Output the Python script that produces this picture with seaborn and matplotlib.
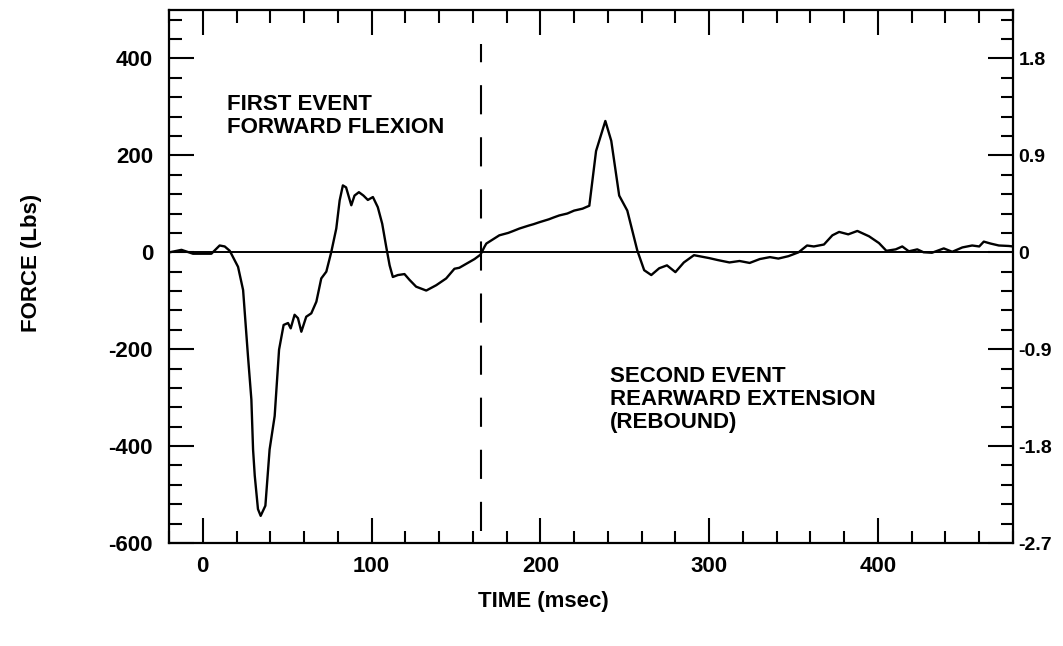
import matplotlib
matplotlib.use("Agg")
import matplotlib.pyplot as plt
from matplotlib.ticker import MultipleLocator, FixedLocator, FuncFormatter
import numpy as np
import pandas as pd
import seaborn as sns

# ---- data ----
time_ms = [-19.5, -12.6, -5.8, 5.1, 10, 13, 16, 20.9, 23.9, 26.8, 28.8, 29.8, 30.8, 32.7,
           34.3, 37.1, 39.6, 42.6, 45.2, 47.9, 50.5, 52.1, 54.4, 56.4, 58.4, 61.3, 64.3,
           67.3, 70.2, 73.2, 76.1, 79.1, 81.1, 83, 84.9, 88, 89.9, 92.5, 95.2, 97.8, 100.8,
           103.7, 106.3, 108.7, 110.7, 112.6, 115.6, 119.5, 122.5, 126.4, 132.4, 138.3,
           144.2, 149.1, 152, 157, 161, 164.5, 167, 168, 175.7, 181, 184, 187.6, 193, 196,
           199.4, 205, 208, 211.2, 216, 220, 225, 229, 233, 238.5, 242, 246.7, 251.5, 257.4,
           261.5, 265.7, 270.4, 275, 280, 285, 291, 300, 305, 312, 318, 324, 330, 336, 341,
           347, 353, 358, 362, 368, 373, 377, 382.4, 387.8, 394.7, 400.6, 405, 410.5, 414.4,
           418.3, 423.3, 427, 432, 439, 444, 450, 455.8, 460, 462.7, 466.7, 471.6, 477.5, 480]
force_lbs = [0, 5, -3, -3, 14, 12, 3, -30, -78, -215, -304, -407, -461, -530,
             -544, -523, -407, -338, -201, -150, -146, -157, -129, -136, -164, -133, -126,
             -102, -54, -40, 0, 49, 107, 138, 134, 97, 117, 124, 117, 108, 114,
             93, 59, 11, -27, -51, -47, -45, -57, -71, -79, -68,
             -54, -34, -32, -22, -14, -5, 12, 18, 35, 40, 44, 49, 55, 58,
             62, 68, 72, 76, 80, 86, 90, 96, 209, 271, 230, 117, 86, 4,
             -37, -47, -33, -27, -41, -21, -6, -12, -16, -21, -18, -22, -14, -10, -13,
             -8, 0, 14, 12, 16, 35, 42, 37, 44, 33, 19, 3, 6, 12,
             2, 6, 0, -1, 8, 1, 10, 14, 12, 22, 18, 14, 13, 12]

x_ticks = [0, 100, 200, 300, 400]
y_ticks = [-600, -400, -200, 0, 200, 400]
y2_ticks = [-2.7, -1.8, -0.9, 0, 0.9, 1.8]
lbs_to_kn = 0.0045
event_line_ms = 165
event_line_span = [-575, 430]
label_first = "FIRST EVENT\nFORWARD FLEXION"
label_second = "SECOND EVENT\nREARWARD EXTENSION\n(REBOUND)"

df = pd.DataFrame({"time": time_ms, "force": force_lbs})

sns.set_style("white")
plt.rcParams["font.family"] = ["Liberation Sans", "DejaVu Sans"]
plt.rcParams["font.weight"] = "bold"
plt.rcParams["axes.unicode_minus"] = False
for k in ["text.color", "axes.labelcolor", "xtick.color", "ytick.color", "axes.edgecolor"]:
    plt.rcParams[k] = "black"

FS = 16
fig = plt.figure(figsize=(10.63, 6.46), dpi=100)
ax = fig.add_axes([169 / 1063, 1 - 543 / 646, (1013 - 169) / 1063, (543 - 10) / 646])

sns.lineplot(data=df, x="time", y="force", ax=ax, color="black", lw=1.7,
             estimator=None, sort=False)
ax.axhline(0, color="black", lw=1.4)
ax.plot([event_line_ms, event_line_ms], event_line_span, color="black", lw=1.5,
        linestyle=(0, (14, 11)))

ax.set_xlim(-20, 480)
ax.set_ylim(-600, 500)

for s in ax.spines.values():
    s.set_visible(True)
    s.set_color("black")
    s.set_linewidth(1.6)

ax.xaxis.set_major_locator(FixedLocator(x_ticks))
ax.xaxis.set_minor_locator(MultipleLocator(20))
ax.yaxis.set_major_locator(FixedLocator(y_ticks))
ax.yaxis.set_minor_locator(MultipleLocator(40))
ax.tick_params(which="both", direction="in", top=True, bottom=True, left=True,
               right=False, color="black", width=1.5)
ax.tick_params(which="major", length=18)
ax.tick_params(which="minor", length=9)
ax.tick_params(axis="x", which="major", labelsize=FS, pad=9)
ax.tick_params(axis="y", which="major", labelsize=FS, pad=11.5)
for lab in ax.get_xticklabels() + ax.get_yticklabels():
    lab.set_fontweight("bold")

ax2 = ax.twinx()
ax2.set_ylim(-600 * lbs_to_kn, 500 * lbs_to_kn)
ax2.yaxis.set_major_locator(FixedLocator(y2_ticks))
ax2.yaxis.set_minor_locator(MultipleLocator(40 * lbs_to_kn))
ax2.yaxis.set_major_formatter(FuncFormatter(lambda v, p: "0" if abs(v) < 1e-9 else f"{v:.1f}"))
ax2.tick_params(which="both", direction="in", right=True, color="black", width=1.5)
ax2.tick_params(which="major", length=18, labelsize=14, pad=4)
ax2.tick_params(which="minor", length=9)
for lab in ax2.get_yticklabels():
    lab.set_fontweight("bold")
for s in ax2.spines.values():
    s.set_visible(False)

ax.set_xlabel("TIME (msec)", fontsize=FS, fontweight="bold")
ax.xaxis.set_label_coords((543 - 169) / 844, (543 - 602) / 533)
ax.xaxis.label.set_va("center")
ax.set_ylabel("FORCE (Lbs)", fontsize=FS, fontweight="bold")
ax.yaxis.set_label_coords((32 - 169) / 844, (543 - 263) / 533)
ax.yaxis.label.set_va("center")

ax.text(14.2, 281, label_first, fontsize=FS, fontweight="bold", ha="left",
        va="center", linespacing=1.1)
ax.text(241, -304, label_second, fontsize=FS, fontweight="bold", ha="left",
        va="center", linespacing=1.1)

fig.savefig("out.png", dpi=100)
